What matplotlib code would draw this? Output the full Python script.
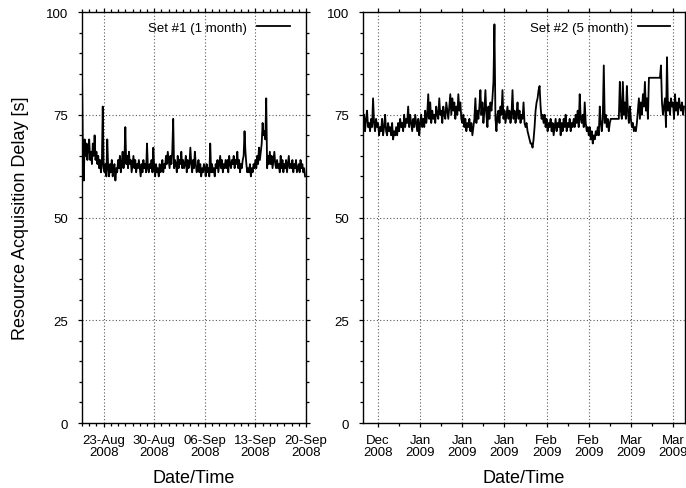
"""Resource acquisition delay for two measurement sets (gnuplot-style look)"""

import matplotlib
matplotlib.use('Agg')
import matplotlib.pyplot as plt
import matplotlib.dates as mdates
import pandas as pd

plt.rcParams['font.family'] = ['Liberation Sans', 'DejaVu Sans']

# Set #1: one value every 3 hours from 20-Aug-2008
set1_start = '2008-08-20'
set1_values = [
    86, 66, 59, 69, 65, 68, 64, 67,
    69, 64, 66, 63, 68, 65, 70, 64,
    66, 63, 65, 62, 64, 61, 63, 77,
    62, 61, 63, 60, 69, 62, 60, 63,
    61, 64, 60, 62, 63, 59, 62, 61,
    64, 62, 65, 61, 63, 66, 62, 64,
    72, 63, 65, 62, 66, 63, 64, 61,
    63, 65, 62, 64, 61, 63, 62, 64,
    62, 60, 63, 61, 64, 62, 63, 61,
    68, 62, 61, 63, 62, 64, 61, 67,
    62, 60, 63, 61, 62, 60, 63, 61,
    62, 64, 61, 63, 62, 65, 63, 66,
    64, 62, 65, 63, 66, 74, 62, 64,
    63, 61, 65, 62, 64, 63, 66, 62,
    64, 62, 63, 65, 61, 64, 62, 63,
    67, 63, 61, 64, 62, 66, 63, 61,
    62, 64, 61, 63, 60, 62, 61, 63,
    62, 60, 63, 61, 62, 60, 68, 61,
    63, 61, 62, 60, 63, 62, 64, 61,
    63, 65, 62, 64, 61, 63, 62, 64,
    62, 64, 61, 65, 63, 62, 64, 63,
    65, 62, 64, 63, 66, 62, 64, 61,
    63, 62, 64, 65, 71, 66, 63, 61,
    62, 61, 63, 60, 62, 61, 63, 62,
    64, 62, 65, 63, 67, 64, 66, 68,
    73, 70, 71, 69, 79, 62, 65, 63,
    66, 63, 65, 62, 64, 66, 63, 62,
    64, 62, 63, 61, 65, 62, 64, 61,
    63, 62, 64, 61, 63, 65, 62, 63,
    62, 64, 61, 63, 62, 64, 61, 62,
    63, 61, 64, 62, 63, 61, 62, 60,
]

# Set #2: one value every 8 hours, three runs with gaps between them
set2a_start = '2008-12-15'
set2a_values = [
    72, 75, 71, 74, 76, 72, 73, 71, 74, 72, 79, 73, 71, 74, 72,
    73, 70, 72, 71, 74, 70, 72, 75, 71, 70, 73, 71, 72, 70, 73,
    69, 71, 70, 72, 70, 73, 71, 74, 72, 73, 71, 75, 72, 74, 73,
    77, 72, 75, 73, 71, 74, 72, 75, 73, 71, 74, 70, 73, 75, 72,
    74, 72, 76, 73, 75, 80, 74, 78, 73, 76, 74, 75, 73, 77, 75,
    74, 79, 75, 76, 73, 77, 75, 74, 78, 76, 74, 77, 80, 75, 79,
    76, 78, 74, 77, 75, 80, 76, 78, 74, 73, 75, 72, 74, 71, 73,
    72, 74, 71, 73, 70, 72, 74, 79, 73, 76, 74, 77, 81, 75, 78,
    73, 76, 81, 75, 72, 77, 74, 78, 76, 79, 83, 97, 74, 71, 75,
    76, 73, 77, 75, 81, 74, 76, 73, 75, 77, 74, 76, 73, 75, 81,
    74, 76, 73, 75, 78, 74, 76, 73, 75, 74, 78, 73, 72, 73, 71,
    70, 69, 68, 68, 67, 69, 72, 76, 78, 79, 81, 82, 77, 74, 75,
    73, 75, 72, 74, 71, 73, 72, 74, 71, 73, 70, 72, 74, 71, 73,
    72, 74, 70, 73, 71, 74, 72, 75, 71, 73, 72, 74, 71, 73, 72,
    74, 72, 75, 73, 76, 72, 80, 74, 73, 75, 72, 78, 73, 71, 72,
    70, 72, 69, 71, 68, 70, 69, 71, 70, 72, 70, 77, 73, 71, 74,
    87, 73, 75, 72, 74, 71, 73, 74,
]
set2b_start = '2009-03-10'
set2b_values = [
    74, 83, 76, 74, 83, 75, 78, 74, 82, 76, 73, 77, 74, 72, 73, 71,
    72, 71, 73, 76, 79, 74, 78, 75, 80, 77, 83, 76, 79, 74, 84,
]
set2c_start = '2009-03-23 16:00'
set2c_values = [
    84, 87, 78, 75, 77, 79, 72, 89, 76, 78, 75, 79, 77,
    78, 74, 80, 76, 78, 75, 79, 77, 76, 78, 75, 77,
]

set1_label = 'Set #1 (1 month)'
set2_label = 'Set #2 (5 month)'


def style_axes(ax):
    ax.set_ylim(0, 100)
    ax.set_yticks([0, 25, 50, 75, 100])
    ax.set_yticks(range(0, 101, 5), minor=True)
    ax.tick_params(which='both', direction='out', top=True, right=True,
                   labelsize=9.5, width=0.9)
    ax.tick_params(which='major', length=3.2)
    ax.tick_params(which='minor', length=2)
    ax.tick_params(axis='y', pad=7)
    ax.tick_params(axis='x', pad=5)
    ax.grid(True, which='major', color='0.35', linestyle=(0, (1, 2)), linewidth=0.8)
    for s in ax.spines.values():
        s.set_linewidth(1.0)
    ax.set_xlabel('Date/Time', fontsize=13, labelpad=8)
    for lbl in ax.get_xticklabels():
        lbl.set_linespacing(0.95)


fig = plt.figure(figsize=(6.86, 4.89), dpi=100)
ax1 = fig.add_axes([0.1195, 0.1329, 0.3265, 0.8405])
ax2 = fig.add_axes([0.5292, 0.1329, 0.4694, 0.8405])

t1 = pd.date_range(set1_start, periods=len(set1_values), freq='3h')
ax1.plot(t1, set1_values, color='black', linewidth=1.3, label=set1_label)

t2 = (list(pd.date_range(set2a_start, periods=len(set2a_values), freq='8h'))
      + list(pd.date_range(set2b_start, periods=len(set2b_values), freq='8h'))
      + list(pd.date_range(set2c_start, periods=len(set2c_values), freq='8h')))
v2 = set2a_values + set2b_values + set2c_values
ax2.plot(t2, v2, color='black', linewidth=1.3, label=set2_label)

ax1.set_xlim(pd.Timestamp('2008-08-20'), pd.Timestamp('2008-09-20'))
ax1.set_xticks(pd.date_range('2008-08-23', '2008-09-20', freq='7D'))
ax1.set_xticks(pd.date_range('2008-08-20', '2008-09-20', freq='1D'), minor=True)
ax1.xaxis.set_major_formatter(mdates.DateFormatter('%d-%b\n%Y'))

ax2.set_xlim(pd.Timestamp('2008-12-15'), pd.Timestamp('2009-04-01'))
ax2.set_xticks(pd.date_range('2008-12-20', '2009-03-28', freq='14D'))
ax2.set_xticks(pd.date_range('2008-12-20', '2009-03-31', freq='7D'), minor=True)
ax2.xaxis.set_major_formatter(mdates.DateFormatter('%b\n%Y'))

style_axes(ax1)
style_axes(ax2)

ax1.set_ylabel('Resource Acquisition Delay [s]', fontsize=13, labelpad=12)

ax1.legend(loc='upper right', bbox_to_anchor=(0.929, 0.977), frameon=False,
           fontsize=9.5, markerfirst=False, handlelength=2.5, handletextpad=0.75,
           borderpad=0, borderaxespad=0)
ax2.legend(loc='upper right', bbox_to_anchor=(0.953, 0.977), frameon=False,
           fontsize=9.5, markerfirst=False, handlelength=2.4, handletextpad=0.75,
           borderpad=0, borderaxespad=0)

fig.savefig('out.png', dpi=100)
